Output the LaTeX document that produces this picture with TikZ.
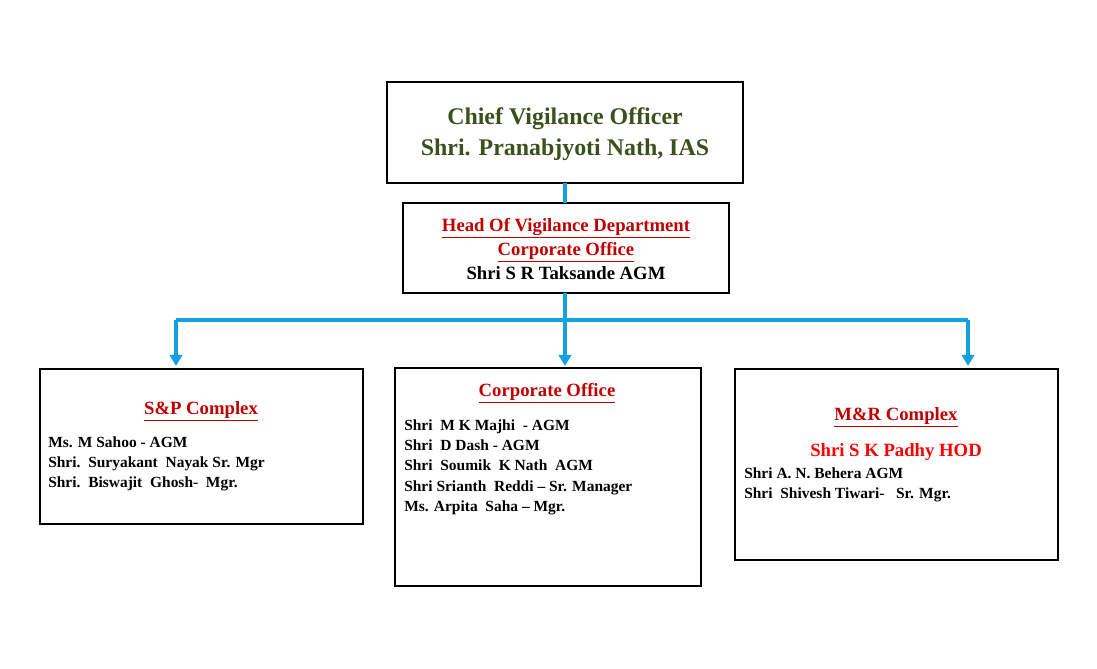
\documentclass[tikz,border=0pt]{standalone}
\usepackage{fontspec}
\setmainfont{Liberation Serif}
\usetikzlibrary{positioning, arrows.meta}
\definecolor{cvogreen}{RGB}{60,80,30}
\definecolor{cvored}{RGB}{192,0,0}
\definecolor{buscol}{RGB}{20,160,225}
\tikzset{
	post/.style={draw, thick, minimum width=#1, inner sep=0pt},
	bus/.style={buscol, line width=2.2pt},
	hd/.style={font=\bfseries\fontsize{13.3}{15}\selectfont, text=cvored},
	lst/.style={font=\bfseries\fontsize{11}{14.5}\selectfont, align=left, anchor=north west, inner sep=0pt},
}
\newcommand{\ul}[1]{\underline{#1}}
\begin{document}
\begin{tikzpicture}[x=0.025cm, y=-0.025cm]
	\useasboundingbox (0,0) rectangle (1097,669);
	
	% boxes
	\draw[thick] (387,82) rectangle (743,183);
	\draw[thick] (403,203) rectangle (729,293);
	\draw[thick] (40,369) rectangle (363,524);
	\draw[thick] (395,368) rectangle (701,586);
	\draw[thick] (735,369) rectangle (1058,560);
	
	\node[font=\bfseries\fontsize{17}{22}\selectfont, text=cvogreen, align=center] (cvo) at (565,134)
		{Chief Vigilance Officer\\Shri. Pranabjyoti Nath, IAS};
	\node[font=\bfseries\fontsize{13.3}{17}\selectfont, align=center] (hov) at (566,249)
		{\textcolor{cvored}{\ul{Head Of Vigilance Department}}\\\textcolor{cvored}{\ul{Corporate Office}}\\Shri S R Taksande AGM};
	
	% connectors
	\coordinate (top) at (565,183);
	\coordinate (mid) at (565,203);
	\coordinate (low) at (565,293);
	\coordinate (busL) at (176,320);
	\coordinate (busM) at (565,320);
	\coordinate (busR) at (968,320);
	\coordinate (sp) at (176,366);
	\coordinate (co) at (565,366);
	\coordinate (mr) at (968,366);
	\draw[bus] (top) -- (mid);
	\draw[bus] (low) -- (busM);
	\draw[bus] (busL) -- (busR);
	\draw[bus, -{Triangle[width=9pt,length=8pt]}] (busL) -- (sp);
	\draw[bus, -{Triangle[width=9pt,length=8pt]}] (busM) -- (co);
	\draw[bus, -{Triangle[width=9pt,length=8pt]}] (busR) -- (mr);
	
	% S&P
	\node[hd] (sph) at (201,411) {\ul{S\&P Complex}};
	\node[lst] (spl) at (48,436) {Ms. M Sahoo - AGM\\Shri.\ \ Suryakant\ \ Nayak Sr. Mgr\\Shri.\ \ Biswajit\ \ Ghosh-\ \ Mgr.};
	
	% Corporate office
	\node[hd] (coh) at (547,393) {\ul{Corporate Office}};
	\node[lst] (col) at (404,419) {Shri\ \ M K Majhi\ \ - AGM\\Shri\ \ D Dash - AGM\\Shri\ \ Soumik\ \ K Nath\ \ AGM\\Shri\ Srianth\ \ Reddi -- Sr. Manager\\Ms. Arpita\ \ Saha -- Mgr.};
	
	% M&R
	\node[hd] (mrh) at (896,417) {\ul{M\&R Complex}};
	\node[font=\bfseries\fontsize{13.3}{15}\selectfont, text=red] (mrhod) at (896,452) {Shri S K Padhy HOD};
	\node[lst] (mrl) at (744,467) {Shri A.\ N. Behera AGM\\Shri\ \ Shivesh Tiwari-\ \ \ Sr. Mgr.};
\end{tikzpicture}
\end{document}
